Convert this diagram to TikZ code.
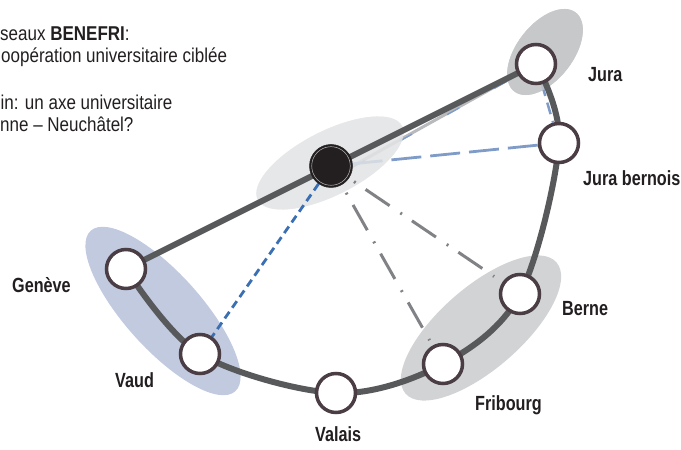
\documentclass[tikz,border=0pt]{standalone}
\usepackage{fontspec}
\setmainfont{Liberation Sans}[FakeStretch=0.85]
\newfontfamily\lblfont{Liberation Sans}[FakeStretch=0.79]
\usetikzlibrary{calc}
\definecolor{arcgray}{HTML}{58595B}
\definecolor{ringc}{HTML}{4A3D44}
\definecolor{ellJ}{HTML}{C7C8CA}
\definecolor{ellC}{HTML}{E6E7E8}
\definecolor{ellG}{HTML}{C1CADF}
\definecolor{ellB}{HTML}{D1D3D4}
\definecolor{lblue}{HTML}{7F9CC8}
\definecolor{dblue}{HTML}{3B6FB3}
\definecolor{ddgray}{HTML}{808285}
\definecolor{lgray}{HTML}{B8BABD}
\definecolor{txt}{HTML}{231F20}
\pgfdeclarelayer{bg}
\pgfsetlayers{bg,main}
\begin{document}
\begin{tikzpicture}[x=1pt,y=1pt,
  stn/.style={circle,draw=ringc,line width=3.5pt,fill=white,minimum size=39pt,inner sep=0pt},
  hub/.style={circle,fill=txt,draw=txt,line width=0.5pt,minimum size=43pt,inner sep=0pt},
  lbl/.style={anchor=base west,inner sep=0pt,text=txt,font=\lblfont\fontsize{20.5}{24}\selectfont\bfseries},
  note/.style={anchor=base west,inner sep=0pt,text=txt,font=\fontsize{20}{24}\selectfont},
  railline/.style={draw=arcgray,line width=6pt},
  lightline/.style={draw=lgray,line width=3pt},
  lbdash/.style={draw=lblue,line width=2.8pt,dash pattern=on 30pt off 9pt},
  lbshort/.style={draw=lblue,line width=2.5pt,dash pattern=on 12pt off 7pt},
  dbdash/.style={draw=dblue,line width=2.8pt,dash pattern=on 8pt off 5pt},
  ddline/.style={draw=ddgray,line width=3pt,dash pattern=on 2pt off 12pt on 29pt off 13pt},
]
\useasboundingbox (0,0) rectangle (681,450);

% stations
\node[stn] (jura) at (536,386) {};
\node[stn] (jb) at (559,307) {};
\node[stn] (berne) at (520,156) {};
\node[stn] (fri) at (443,86) {};
\node[stn] (valais) at (336,57) {};
\node[stn] (vaud) at (200,96) {};
\node[stn] (gen) at (126,181) {};
\node[hub] (c) at (331,284) {};
\draw[draw=white!70!txt,line width=0.5pt] (c.center) circle (19.3pt);

\begin{pgfonlayer}{bg}
  % groupings
  \fill[ellJ,rotate around={52:(545,398)}] (545,398) ellipse [x radius=50pt,y radius=28pt];
  \fill[ellC,rotate around={27:(330,287)}] (330,287) ellipse [x radius=81pt,y radius=32pt];
  \fill[ellG,rotate around={-48:(163,139)}] (163,139) ellipse [x radius=108pt,y radius=38pt];
  \fill[ellB,rotate around={41:(481,122)}] (481,122) ellipse [x radius=100pt,y radius=41pt];
  % light links
  \draw[lightline] (c.east) -- (jura.center);
  \draw[draw=lblue,line width=1.4pt,dash pattern=on 14pt off 40pt,transform canvas={yshift=-1.2pt}] (c.east) -- (jura.center);
  \draw[lbdash] (c) -- (jb);
  \draw[lbshort] (jura) -- (jb);
  % fading inside the groupings
  \fill[ellC,opacity=0.8,rotate around={27:(330,287)}] (330,287) ellipse [x radius=81pt,y radius=32pt];
  \fill[ellJ,opacity=0.8,rotate around={52:(545,398)}] (545,398) ellipse [x radius=50pt,y radius=28pt];
  % other links
  \draw[dbdash] (c) -- (vaud);
  \draw[ddline,shorten <=6pt,shorten >=10pt] (c) -- (berne);
  \draw[ddline,shorten <=9pt,shorten >=6pt] (c) -- (fri);
  % main rails
  \draw[railline] plot[smooth,tension=0.55] coordinates {(gen.center) (vaud.center) (valais.center) (fri.center) (berne.center) (jb.center) (jura.center)};
  \draw[railline] (gen.center) -- (jura.center);
\end{pgfonlayer}

% labels
\node[lbl] (lj) at (588,368) {Jura};
\node[lbl] (ljb) at (583,264) {Jura bernois};
\node[lbl] (lg) at (12,157) {Genève};
\node[lbl] (lv) at (115,62) {Vaud};
\node[lbl] (lva) at (315,8) {Valais};
\node[lbl] (lf) at (475,39) {Fribourg};
\node[lbl] (lb) at (562,134) {Berne};

% notes
\node[note] (t1) at (0,409) {seaux \textbf{BENEFRI}:};
\node[note] (t2) at (1,387) {oopération universitaire ciblée};
\node[note] (t3) at (0.5,340) {in: un axe universitaire};
\node[note] (t4) at (0,318) {nne – Neuchâtel?};
\end{tikzpicture}
\end{document}
